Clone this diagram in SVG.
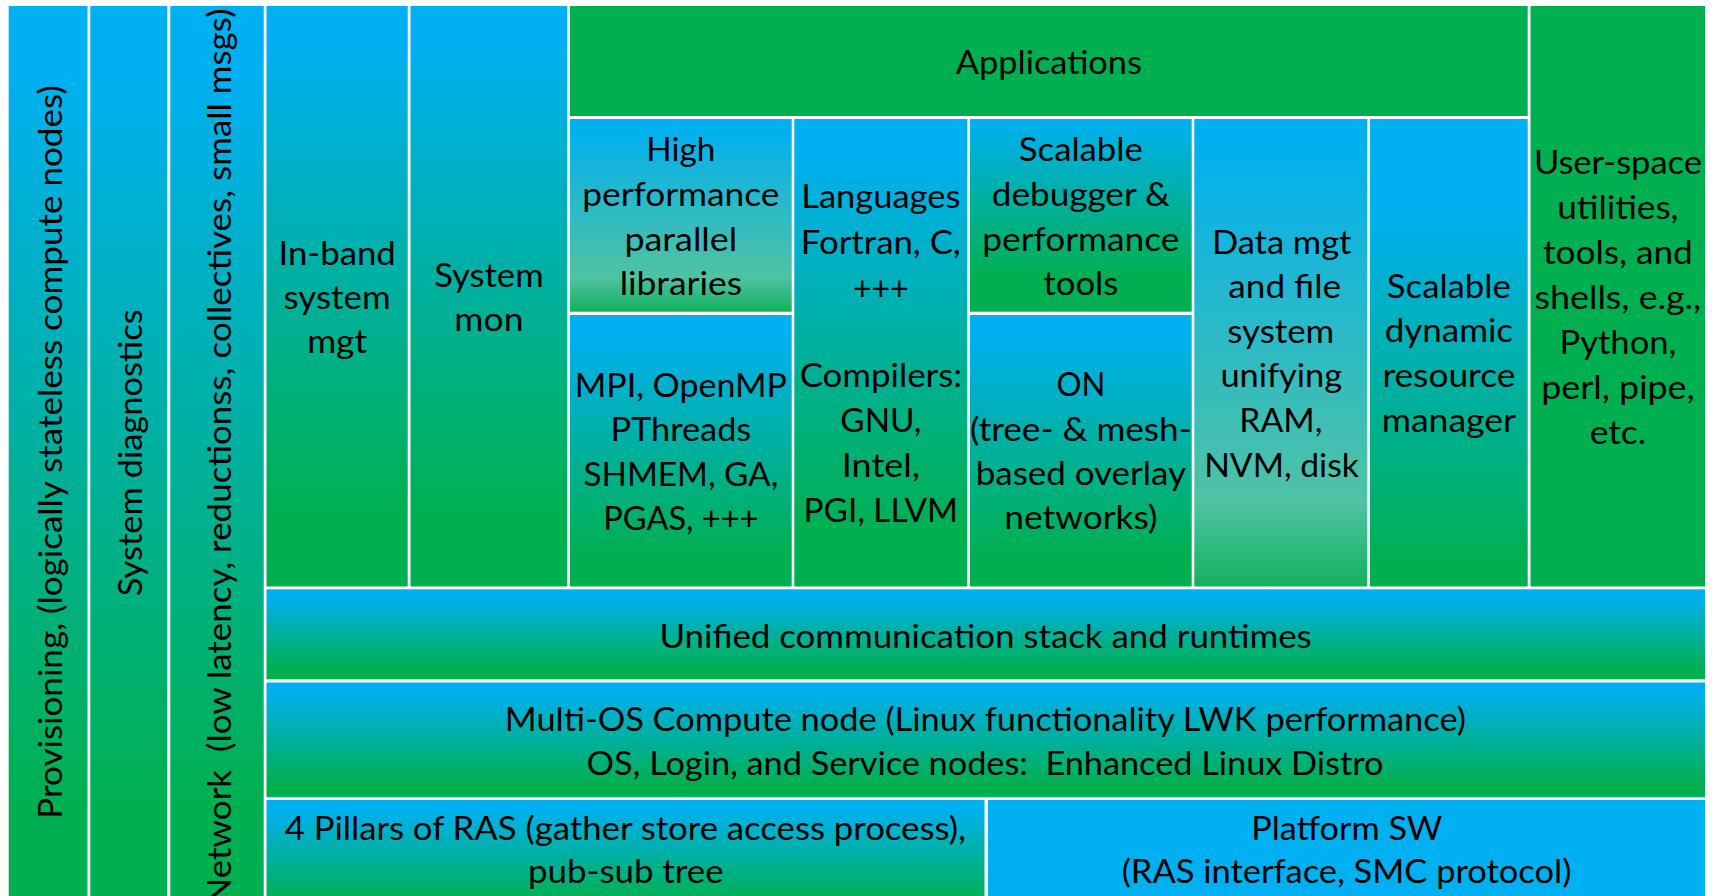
<svg xmlns="http://www.w3.org/2000/svg" width="1715" height="896" viewBox="0 0 1715 896">
  <style>
    .t { font-family: Lato, "Liberation Sans", "DejaVu Sans", sans-serif; font-size: 33.5px; fill: #000; text-anchor: middle; }
  </style>
  <defs>
    <!-- standard blue-to-green vertical fill -->
    <linearGradient id="bg" x1="0" y1="0" x2="0" y2="1">
      <stop offset="0.08" stop-color="#00B0F0"/>
      <stop offset="0.88" stop-color="#00B050"/>
    </linearGradient>
    <!-- blue fill that turns green sooner (short boxes) -->
    <linearGradient id="bgShort" x1="0" y1="0" x2="0" y2="1">
      <stop offset="0.02" stop-color="#00B0F0"/>
      <stop offset="0.82" stop-color="#00B050"/>
    </linearGradient>
    <!-- blue fill that stays blue longer -->
    <linearGradient id="bgLate" x1="0" y1="0" x2="0" y2="1">
      <stop offset="0.2" stop-color="#00B0F0"/>
      <stop offset="0.96" stop-color="#00B050"/>
    </linearGradient>
    <!-- blue to pale teal, then green at the foot -->
    <linearGradient id="bgPale" x1="0" y1="0" x2="0" y2="1">
      <stop offset="0.04" stop-color="#00B0F0"/>
      <stop offset="0.82" stop-color="#50C2A4"/>
      <stop offset="1" stop-color="#12B25C"/>
    </linearGradient>
  </defs>

  <rect x="0" y="0" width="1715" height="896" fill="#FFFFFF"/>

  <!-- vertical side columns -->
  <g id="provisioning">
    <rect x="8.7" y="6" width="78.8" height="909" fill="url(#bg)"/>
    <text class="t" transform="translate(61.6,452) rotate(-90)" x="0" y="0" textLength="733.5" lengthAdjust="spacingAndGlyphs">Provisioning, (logically stateless compute nodes)</text>
  </g>
  <g id="system-diagnostics">
    <rect x="90.3" y="6" width="77" height="909" fill="url(#bg)"/>
    <text class="t" transform="translate(142.3,452.8) rotate(-90)" x="0" y="0" textLength="286.9" lengthAdjust="spacingAndGlyphs">System diagnostics</text>
  </g>
  <g id="network">
    <rect x="170.3" y="6" width="93.4" height="909" fill="url(#bg)"/>
    <text class="t" xml:space="preserve" transform="translate(230.8,456.5) rotate(-90)" x="0" y="0" textLength="896" lengthAdjust="spacingAndGlyphs">Network  (low latency, reductionss, collectives, small msgs)</text>
  </g>

  <g id="in-band-mgt">
    <rect x="266.5" y="6" width="141.2" height="580.5" fill="url(#bg)"/>
    <text class="t" x="337.1" y="264.5" textLength="117.2" lengthAdjust="spacingAndGlyphs">In-band</text>
    <text class="t" x="337.1" y="308.5" textLength="107" lengthAdjust="spacingAndGlyphs">system</text>
    <text class="t" x="337.1" y="352.5" textLength="59.9" lengthAdjust="spacingAndGlyphs">mgt</text>
  </g>
  <g id="system-mon">
    <rect x="410.5" y="6" width="156.8" height="580.5" fill="url(#bg)"/>
    <text class="t" x="488.9" y="287" textLength="109.5" lengthAdjust="spacingAndGlyphs">System</text>
    <text class="t" x="488.9" y="331" textLength="69.1" lengthAdjust="spacingAndGlyphs">mon</text>
  </g>

  <g id="applications">
    <rect x="570" y="6" width="957.7" height="110" fill="#00B050"/>
    <text class="t" x="1048.85" y="74" textLength="186" lengthAdjust="spacingAndGlyphs">Applications</text>
  </g>

  <g id="parallel-libraries">
    <rect x="570" y="119" width="221.7" height="192.7" fill="url(#bgPale)"/>
    <text class="t" x="680.85" y="161" textLength="69" lengthAdjust="spacingAndGlyphs">High</text>
    <text class="t" x="680.85" y="206" textLength="197" lengthAdjust="spacingAndGlyphs">performance</text>
    <text class="t" x="680.85" y="250.5" textLength="112.7" lengthAdjust="spacingAndGlyphs">parallel</text>
    <text class="t" x="680.85" y="295" textLength="122.4" lengthAdjust="spacingAndGlyphs">libraries</text>
  </g>
  <g id="programming-models">
    <rect x="570" y="315" width="221.7" height="271.5" fill="url(#bg)"/>
    <text class="t" x="680.85" y="396.5" textLength="212.1" lengthAdjust="spacingAndGlyphs">MPI, OpenMP</text>
    <text class="t" x="680.85" y="441" textLength="140.8" lengthAdjust="spacingAndGlyphs">PThreads</text>
    <text class="t" x="680.85" y="485.5" textLength="194.7" lengthAdjust="spacingAndGlyphs">SHMEM, GA,</text>
    <text class="t" x="680.85" y="530" textLength="155.1" lengthAdjust="spacingAndGlyphs">PGAS, +++</text>
  </g>

  <g id="languages-compilers">
    <rect x="794.3" y="119" width="173" height="467.5" fill="url(#bg)"/>
    <text class="t" x="880.8" y="208.3" textLength="159" lengthAdjust="spacingAndGlyphs">Languages</text>
    <text class="t" x="880.8" y="254" textLength="159.9" lengthAdjust="spacingAndGlyphs">Fortran, C,</text>
    <text class="t" x="880.8" y="299.5" textLength="55.7" lengthAdjust="spacingAndGlyphs">+++</text>
    <text class="t" x="880.8" y="386.7" textLength="162.3" lengthAdjust="spacingAndGlyphs">Compilers:</text>
    <text class="t" x="880.8" y="431.7" textLength="80.9" lengthAdjust="spacingAndGlyphs">GNU,</text>
    <text class="t" x="880.8" y="476.7" textLength="78" lengthAdjust="spacingAndGlyphs">Intel,</text>
    <text class="t" x="880.8" y="521.7" textLength="154.5" lengthAdjust="spacingAndGlyphs">PGI, LLVM</text>
  </g>

  <g id="debugger-tools">
    <rect x="970" y="119" width="221.7" height="192.7" fill="url(#bgShort)"/>
    <text class="t" x="1080.85" y="161" textLength="124" lengthAdjust="spacingAndGlyphs">Scalable</text>
    <text class="t" x="1080.85" y="206" textLength="178.1" lengthAdjust="spacingAndGlyphs">debugger &amp;</text>
    <text class="t" x="1080.85" y="250.5" textLength="197" lengthAdjust="spacingAndGlyphs">performance</text>
    <text class="t" x="1080.85" y="295" textLength="75" lengthAdjust="spacingAndGlyphs">tools</text>
  </g>
  <g id="overlay-networks">
    <rect x="970" y="315" width="221.7" height="271.5" fill="url(#bg)"/>
    <text class="t" x="1080.85" y="396" textLength="48.8" lengthAdjust="spacingAndGlyphs">ON</text>
    <text class="t" x="1080.85" y="440.7" textLength="221.8" lengthAdjust="spacingAndGlyphs">(tree- &amp; mesh-</text>
    <text class="t" x="1080.85" y="485" textLength="210.2" lengthAdjust="spacingAndGlyphs">based overlay</text>
    <text class="t" x="1080.85" y="529.3" textLength="153" lengthAdjust="spacingAndGlyphs">networks)</text>
  </g>

  <g id="data-mgt">
    <rect x="1194.3" y="119" width="173" height="467.5" fill="url(#bgPale)"/>
    <text class="t" x="1281.7" y="253.8" textLength="139.6" lengthAdjust="spacingAndGlyphs">Data mgt</text>
    <text class="t" x="1284.7" y="298" textLength="112.7" lengthAdjust="spacingAndGlyphs">and file</text>
    <text class="t" x="1280.8" y="342.5" textLength="107" lengthAdjust="spacingAndGlyphs">system</text>
    <text class="t" x="1281.3" y="387" textLength="121.8" lengthAdjust="spacingAndGlyphs">unifying</text>
    <text class="t" x="1280.8" y="431.7" textLength="83.1" lengthAdjust="spacingAndGlyphs">RAM,</text>
    <text class="t" x="1281.5" y="476.5" textLength="154.7" lengthAdjust="spacingAndGlyphs">NVM, disk</text>
  </g>

  <g id="resource-manager">
    <rect x="1370" y="119" width="157.7" height="467.5" fill="url(#bgLate)"/>
    <text class="t" x="1448.85" y="297.5" textLength="124" lengthAdjust="spacingAndGlyphs">Scalable</text>
    <text class="t" x="1448.85" y="342" textLength="128.2" lengthAdjust="spacingAndGlyphs">dynamic</text>
    <text class="t" x="1448.85" y="386.5" textLength="132.9" lengthAdjust="spacingAndGlyphs">resource</text>
    <text class="t" x="1448.85" y="431.5" textLength="134.4" lengthAdjust="spacingAndGlyphs">manager</text>
  </g>

  <g id="user-space">
    <rect x="1530.5" y="6" width="174.5" height="580.5" fill="#00B050"/>
    <text class="t" x="1617.9" y="174" textLength="168" lengthAdjust="spacingAndGlyphs">User-space</text>
    <text class="t" x="1617.9" y="219" textLength="121.4" lengthAdjust="spacingAndGlyphs">utilities,</text>
    <text class="t" x="1617.9" y="264" textLength="149.9" lengthAdjust="spacingAndGlyphs">tools, and</text>
    <text class="t" x="1617.9" y="309" textLength="166.6" lengthAdjust="spacingAndGlyphs">shells, e.g.,</text>
    <text class="t" x="1617.9" y="354" textLength="116.9" lengthAdjust="spacingAndGlyphs">Python,</text>
    <text class="t" x="1617.9" y="399" textLength="153.2" lengthAdjust="spacingAndGlyphs">perl, pipe,</text>
    <text class="t" x="1617.9" y="444" textLength="56.3" lengthAdjust="spacingAndGlyphs">etc.</text>
  </g>

  <!-- horizontal base layers -->
  <g id="communication-stack">
    <rect x="266.5" y="589.3" width="1438.5" height="90" fill="url(#bg)"/>
    <text class="t" x="985.6" y="648" textLength="652.2" lengthAdjust="spacingAndGlyphs">Unified communication stack and runtimes</text>
  </g>
  <g id="operating-systems">
    <rect x="266.5" y="682.5" width="1438.5" height="114.8" fill="url(#bg)"/>
    <text class="t" x="985.4" y="731" textLength="961.1" lengthAdjust="spacingAndGlyphs">Multi-OS Compute node (Linux functionality LWK performance)</text>
    <text class="t" xml:space="preserve" x="985" y="775" textLength="796.8" lengthAdjust="spacingAndGlyphs">OS, Login, and Service nodes:  Enhanced Linux Distro</text>
  </g>
  <g id="ras-pillars">
    <rect x="266.5" y="800" width="718" height="115" fill="url(#bg)"/>
    <text class="t" x="625.3" y="840" textLength="681.1" lengthAdjust="spacingAndGlyphs">4 Pillars of RAS (gather store access process),</text>
    <text class="t" x="625.8" y="883" textLength="195.6" lengthAdjust="spacingAndGlyphs">pub-sub tree</text>
  </g>
  <g id="platform-sw">
    <rect x="988" y="800" width="717" height="115" fill="#00B0F0"/>
    <text class="t" x="1346.8" y="840" textLength="191" lengthAdjust="spacingAndGlyphs">Platform SW</text>
    <text class="t" x="1346.5" y="883" textLength="449.7" lengthAdjust="spacingAndGlyphs">(RAS interface, SMC protocol)</text>
  </g>
</svg>
